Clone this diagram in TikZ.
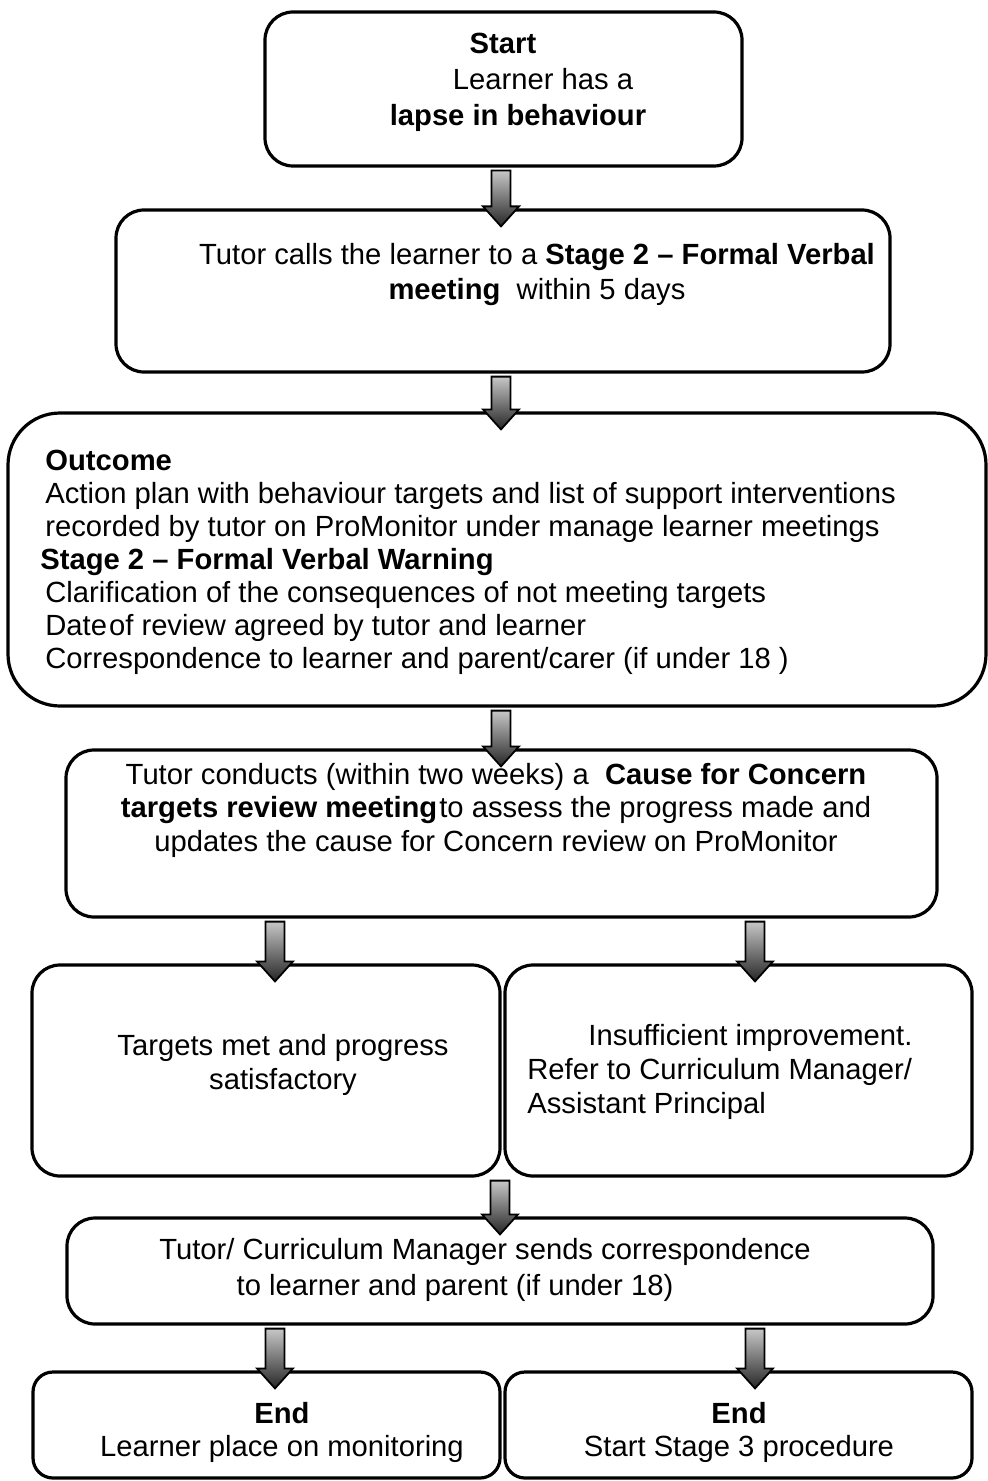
\documentclass[tikz,border=0pt]{standalone}
\usepackage{fontspec}
\setmainfont{Liberation Sans}

\tikzset{
  flowbox/.style={draw, line width=1.6pt, rounded corners=14pt, inner sep=0pt},
  flowtext/.style={inner sep=0pt, font=\fontsize{14.6pt}{#1}\selectfont},
  flowtext/.default=16.5pt,
  blockarrow/.style={draw=black, line width=0.9pt, top color=black!22, bottom color=black!85},
}

% block arrow at x=#1 from node #2 down to node #3
\newcommand{\flowarrow}[3]{%
  \coordinate (arrtop) at (#2.south -| #1,0);
  \coordinate (arrbot) at (#3.north -| #1,0);
  \path[blockarrow] ([shift={(-9.5,3)}]arrtop) -- ([shift={(-9.5,-2)}]arrbot)
    -- ([shift={(-18,-2)}]arrbot) -- ([shift={(0,18)}]arrbot)
    -- ([shift={(18,-2)}]arrbot) -- ([shift={(9.5,-2)}]arrbot)
    -- ([shift={(9.5,3)}]arrtop) -- cycle;
}

\begin{document}
\begin{tikzpicture}[x=0.5pt, y=-0.5pt]
    \useasboundingbox (0,0) rectangle (988,1481);

    % boxes
    \node[flowbox, minimum width=238.5pt, minimum height=77pt] (start) at (503.5,89) {};
    \node[flowbox, minimum width=387pt, minimum height=81pt] (call) at (503,291) {};
    \node[flowbox, rounded corners=26pt, minimum width=489pt, minimum height=146.5pt] (outcome) at (497,559.5) {};
    \node[flowbox, minimum width=435.5pt, minimum height=83.5pt] (review) at (501.5,833.5) {};
    \node[flowbox, minimum width=234pt, minimum height=105.5pt] (met) at (266,1070.5) {};
    \node[flowbox, minimum width=233.5pt, minimum height=105.5pt] (insuff) at (738.5,1070.5) {};
    \node[flowbox, minimum width=433pt, minimum height=53pt] (send) at (500,1271) {};
    \node[flowbox, rounded corners=10pt, minimum width=233.5pt, minimum height=53pt] (endL) at (266.5,1425) {};
    \node[flowbox, rounded corners=10pt, minimum width=233.5pt, minimum height=53pt] (endR) at (738.5,1425) {};

    % texts
    \node[flowtext=18pt, align=center] (startText) at (503,82)
      {\textbf{Start}\\\hspace*{40pt}Learner has a\\\hspace*{15pt}\textbf{lapse in behaviour}};
    \node[flowtext=17.5pt, align=center] (callText) at (537,275)
      {Tutor calls the learner to a \textbf{Stage 2 – Formal Verbal}\\\textbf{meeting}\ \ within 5 days};
    \node[flowtext, align=left, anchor=west] (outcomeText) at (45,562.5)
      {\textbf{Outcome}\\
       Action plan with behaviour targets and list of support interventions\\
       recorded by tutor on ProMonitor under manage learner meetings\\
       \hspace*{-2.5pt}\textbf{Stage 2 – Formal Verbal Warning}\\
       Clarification of the consequences of not meeting targets\\
       Date\kern1pt of review agreed by tutor and learner\\
       Correspondence to learner and parent/carer (if under 18 )};
    \node[flowtext=16.75pt, align=center] (reviewText) at (496,810)
      {Tutor conducts (within two weeks) a\ \ \textbf{Cause for Concern}\\
       \textbf{targets review meeting}\kern1pt to assess the progress made and\\
       updates the cause for Concern review on ProMonitor};
    \node[flowtext=17pt, align=center] (metText) at (283,1065)
      {Targets met and progress\\satisfactory};
    \node[flowtext=17pt, align=left, anchor=west] (insuffText) at (527,1072)
      {\hspace*{30.5pt}Insufficient improvement.\\Refer to Curriculum Manager/\\Assistant Principal};
    \node[flowtext=18pt, align=center] (sendText) at (455,1270)
      {\hspace*{30pt}Tutor/ Curriculum Manager sends correspondence\\to learner and parent (if under 18)};
    \node[flowtext, align=center] (endLText) at (282,1432)
      {\textbf{End}\\Learner place on monitoring};
    \node[flowtext, align=center] (endRText) at (739,1432)
      {\textbf{End}\\Start Stage 3 procedure};

    % arrows
    \flowarrow{501}{start}{call}
    \flowarrow{501}{call}{outcome}
    \flowarrow{501}{outcome}{review}
    \flowarrow{275}{review}{met}
    \flowarrow{755}{review}{insuff}
    \flowarrow{500}{met}{send}
    \flowarrow{275}{send}{endL}
    \flowarrow{755}{send}{endR}
\end{tikzpicture}
\end{document}
